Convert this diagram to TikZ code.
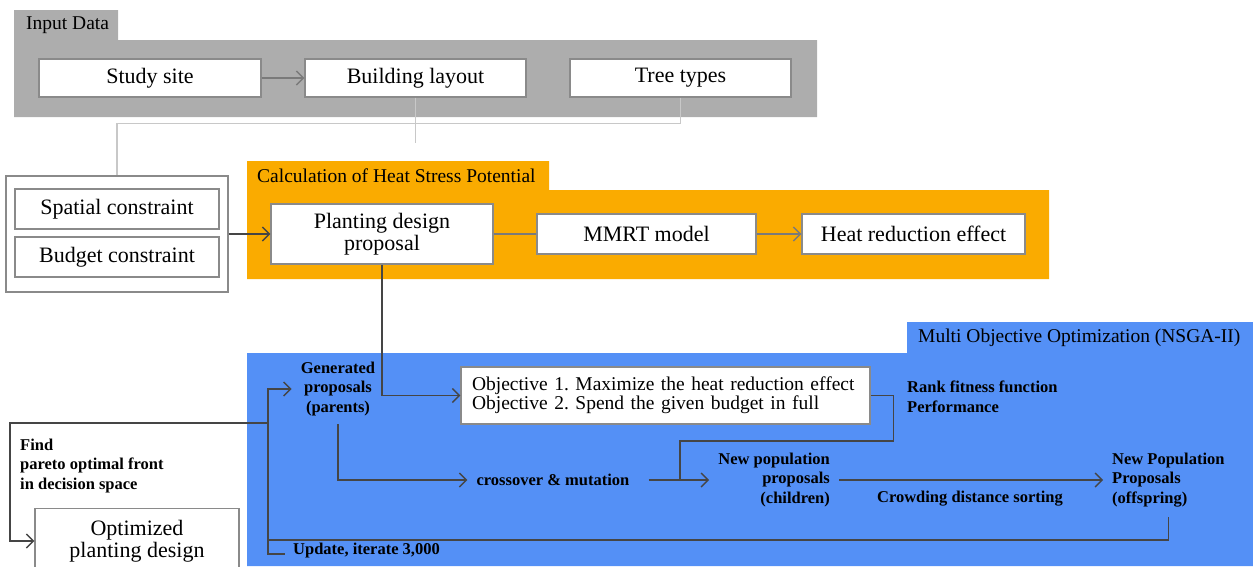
\documentclass[tikz,border=0pt]{standalone}
\usepackage{fontspec}
\setmainfont{Liberation Serif}
\usetikzlibrary{arrows.meta}
\definecolor{inputgray}{HTML}{ADADAD}
\definecolor{heatorange}{HTML}{FAAB00}
\definecolor{optblue}{HTML}{5490F6}
\definecolor{boxborder}{HTML}{8A8A8A}
\definecolor{lightline}{HTML}{C8C8C8}
\definecolor{midline}{HTML}{7A7A7A}
\definecolor{darkline}{HTML}{454545}
\frenchspacing
\begin{document}
\begin{tikzpicture}[x=1pt,y=-1pt,
  box/.style={draw=boxborder, fill=white, line width=1.2pt, inner sep=0pt, align=center,
    font=\fontsize{22}{22}\selectfont},
  header/.style={anchor=west, inner sep=0pt, font=\fontsize{19.5}{20}\selectfont},
  lbl/.style={inner xsep=9pt, inner ysep=4pt, font=\bfseries\fontsize{16.5}{19.5}\selectfont},
  conn/.style={draw=darkline, line width=1.4pt},
  lconn/.style={draw=lightline, line width=1.4pt},
  mconn/.style={draw=midline, line width=1.4pt},
  tip/.style={-{Straight Barb[length=7pt,width=14pt,line width=1.4pt]}}
]
\useasboundingbox (0,0) rectangle (1253,566);
% group backgrounds
\fill[inputgray] (14,10) rectangle (118,41) (14,40) rectangle (817,117);
\node[header] at (26,25) {Input Data};
\fill[heatorange] (247,161) rectangle (549,191) (247,190) rectangle (1049,279);
\node[header] at (257,176) {Calculation of Heat Stress Potential};
\fill[optblue] (907,322) rectangle (1253,354) (247,353) rectangle (1253,566);
\node[header] at (918,338) {Multi Objective Optimization (NSGA-II)};
% input boxes
\node[box, minimum width=222, minimum height=38] (study) at (150,78) {Study site};
\node[box, minimum width=221, minimum height=38] (building) at (415.5,78) {Building layout};
\node[box, minimum width=221, minimum height=38] (tree) at (680.5,78) {Tree types};
% constraints
\node[box, minimum width=222, minimum height=116] (cons) at (117,234) {};
\node[box, minimum width=204, minimum height=40] (spatial) at (117,209) {Spatial constraint};
\node[box, minimum width=204, minimum height=40] (budget) at (117,257) {Budget constraint};
% heat stress
\node[box, minimum width=222, minimum height=60] (plant) at (382,234) {Planting design\\proposal};
\node[box, minimum width=219, minimum height=40] (mmrt) at (646.5,234) {MMRT model};
\node[box, minimum width=223, minimum height=40] (heat) at (913.5,234) {Heat reduction effect};
% optimization
\node[box, minimum height=57, text width=387pt, inner xsep=11pt, align=left,
  font=\fontsize{19.5}{19}\selectfont] (obj) at (665.5,395.5)
  {Objective 1. Maximize the heat reduction effect\\Objective 2. Spend the given budget in full};
\node[lbl, align=center] (gen) at (338,389) {Generated\\proposals\\(parents)};
\node[lbl] (cross) at (553,480) {crossover \& mutation};
\node[lbl, align=left, anchor=west] (rank) at (898,397) {Rank fitness function\\Performance};
\node[lbl, align=right, anchor=east] (newpop) at (839,480) {New population\\proposals\\(children)};
\node[lbl] (crowd) at (970,499) {Crowding distance sorting};
\node[lbl, align=left, anchor=west] (offs) at (1103,480) {New Population\\Proposals\\(offspring)};
\node[lbl, anchor=west, inner xsep=8pt] (upd) at (285,551) {Update, iterate 3,000};
\node[lbl, align=left, anchor=west] (find) at (11,466) {Find\\pareto optimal front\\in decision space};
% optimized design
\node[box, minimum width=204, minimum height=90, anchor=north] (optbox) at (137,508) {};
\node[inner sep=0pt, align=center, font=\fontsize{22}{22}\selectfont] (opttext) at (137,541) {Optimized\\planting design};
% connectors
\draw[mconn, tip] (study) -- (building);
\draw[lconn] (building.south) -- (building.south |- 0,143);
\draw[lconn] (tree.south) -- ++(0,26) -| (cons.north);
\draw[conn, tip] (cons.east) -- (plant.west);
\draw[mconn] (plant.east) -- (mmrt.west);
\draw[mconn, tip] (mmrt.east) -- (heat.west);
\draw[conn, tip] (plant.south) |- (obj.west);
\draw[conn, tip] ([yshift=-4pt]gen.south) |- (cross.west);
\coordinate (jn) at (680,480);
\draw[conn, tip] ([xshift=10pt]cross.east) -- (newpop.west);
\draw[conn] (obj.east) -- ++(23,0) -- ++(0,45.5) -| (jn);
\draw[conn, tip] (newpop.east) -- (offs.west);
\coordinate (loopc) at (268,540);
\draw[conn, tip] ([yshift=-6pt]offs.south) |- (loopc) |- (gen.west);
\draw[conn] (loopc) |- ([yshift=-3pt]upd.west);
\coordinate (fc) at (268,423);
\draw[conn, tip] (fc) -- ++(-258,0) |- (opttext -| optbox.west);
\end{tikzpicture}
\end{document}
